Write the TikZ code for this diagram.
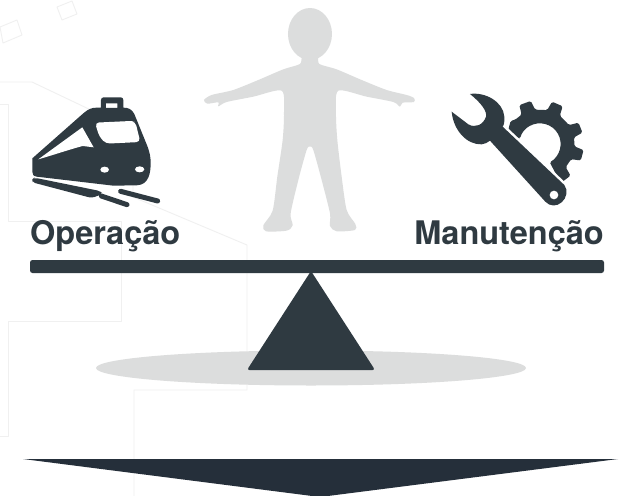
\documentclass[tikz,border=0pt]{standalone}
\usepackage{fontspec}
\setmainfont{TeX Gyre Heros}
\definecolor{ink}{HTML}{2F3A41}
\definecolor{navy}{HTML}{252F3A}
\definecolor{ghost}{HTML}{DCDDDD}
\definecolor{faint}{HTML}{F0F0F0}
\tikzset{
  grid line/.style={draw=faint,line width=0.9pt,line join=round},
  label text/.style={font=\fontsize{32.5}{34}\selectfont\bfseries,text=ink,inner sep=0pt,anchor=base},
  rail/.style={draw=ink,line width=5pt,line cap=round}
}
\begin{document}
\begin{tikzpicture}[x=1pt,y=-1pt]
\useasboundingbox[fill=white] (0,0) rectangle (633,496);
% background
\draw[grid line] (0,82) -- (32,82) -- (133,130) -- (133,197) -- (247,245) -- (247,390) -- (134,390) -- (134,496);
\draw[grid line] (0,104) -- (8,104) -- (8,221) -- (121,221) -- (121,321) -- (8,321) -- (8,436) -- (0,436);
\draw[grid line] (0,27) -- (17,20) -- (22,35) -- (3,43) -- cycle;
\draw[grid line] (57,7) -- (72,1) -- (77,14) -- (62,20) -- cycle;
% shadow and person
\fill[ghost] (311,368) ellipse [x radius=215,y radius=17.5];
\begin{scope}[shift={(190,0)},x=0.3333pt,y=-0.3333pt]
\fill[ghost] (360,102) ellipse [x radius=66,y radius=78];
\fill[ghost] plot[smooth cycle,tension=0.45] coordinates {
 (338,170) (330,192) (280,208) (205,240) (130,270) (65,285) (42,300) (52,311) (85,307) (85,319) (110,306) (190,290) (275,272)
 (282,340) (278,420) (262,530) (248,632) (220,676) (228,694) (290,692) (308,676) (302,640) (325,540) (350,450) (360,440) (370,450) (395,540) (420,640) (420,678) (440,694) (495,690) (496,672) (470,630) (455,530) (442,420) (438,340) (445,272)
 (530,290) (610,306) (630,320) (638,308) (672,306) (672,294) (650,285) (590,270) (515,240) (440,208) (388,192) (382,170)};
\end{scope}
% beam and fulcrum
\fill[ink,rounded corners=2.5pt] (30,260) rectangle (604,273);
\fill[ink,rounded corners=2.5pt] (311,271) -- (375,370) -- (247,370) -- cycle;
\fill[navy] (23,459) -- (618,459) -- (320,497) -- cycle;
% train
\begin{scope}[shift={(0,70)},x=0.3333pt,y=-0.3333pt]
\fill[ink,even odd rule]
 (97,265) -- (250,130) .. controls (265,117) and (275,113) .. (290,113) -- (303,113) -- (303,90) .. controls (303,85) and (306,82) .. (311,82) -- (362,82) .. controls (367,82) and (370,85) .. (370,90) -- (370,113) .. controls (385,113) and (395,117) .. (403,132) -- (442,228) .. controls (450,250) and (452,262) .. (452,280) .. controls (452,305) and (448,345) .. (410,346) -- (340,347) -- (110,320) .. controls (100,318) and (97,314) .. (97,305) -- cycle
 (318,100) -- (352,100) -- (352,114) -- (318,114) -- cycle;
\fill[white,rounded corners=4pt] (285,158) -- (392,153) -- (406,155) -- (421,216) -- (318,221) -- (298,200) -- cycle;
\fill[white] (115,268) -- (247,172) -- (281,232) -- (248,228) .. controls (210,238) and (160,255) .. cycle;
\fill[white] (314,299) ellipse [x radius=13,y radius=9];
\fill[white] (419,298) ellipse [x radius=14,y radius=9];
\fill[ink,rounded corners=3pt] (97,328) -- (103,323) -- (300,363) -- (308,372) -- (275,384) -- (97,337) -- cycle;
\draw[rail] (304,378) -- (381,404);
\draw[rail] (362,364) -- (473,393);
\end{scope}
% gear and wrench
\begin{scope}[shift={(400,70)},x=0.3333pt,y=-0.3333pt]
\begin{scope}[shift={(420,222)},x=0.3333pt,y=0.3333pt]
\fill[ink,rounded corners=1.5pt,even odd rule]
 (-62:104) -- (-60:132) -- (-46:132) -- (-42:104) -- (-26:104) -- (-22:132) -- (-8:132) -- (-4:104)
 -- (11:104) -- (15:132) -- (29:132) -- (33:104) -- (55:104) -- (59:132) -- (74:132) -- (78:104)
 -- (98:104) -- (102:132) -- (118:132) -- (122:104) -- (135:104) -- (142:112) -- (156:104) -- (158:98) -- (165:68) -- (165:62)
 arc[start angle=165,end angle=-62,radius=62] -- cycle;
\end{scope}
\fill[ink,preaction={draw=white,line width=5pt,line join=round}]
 (210,72) .. controls (255,65) and (310,95) .. (313,140) .. controls (314,155) and (312,165) .. (308,170) -- (493,345) .. controls (505,360) and (500,385) .. (485,397) .. controls (470,410) and (450,410) .. (436,395) -- (270,212) .. controls (262,218) and (255,222) .. (245,223) .. controls (200,225) and (160,180) .. (155,125) -- (205,163) .. controls (225,175) and (250,165) .. (258,140) .. controls (262,125) and (245,100) .. cycle;
\fill[white] (462,375) circle [radius=13];
\end{scope}
% labels
\node[label text,anchor=base west] (op) at (30,244) {Operação};
\node[label text,anchor=base east] (man) at (604,244) {Manutenção};
\end{tikzpicture}
\end{document}
